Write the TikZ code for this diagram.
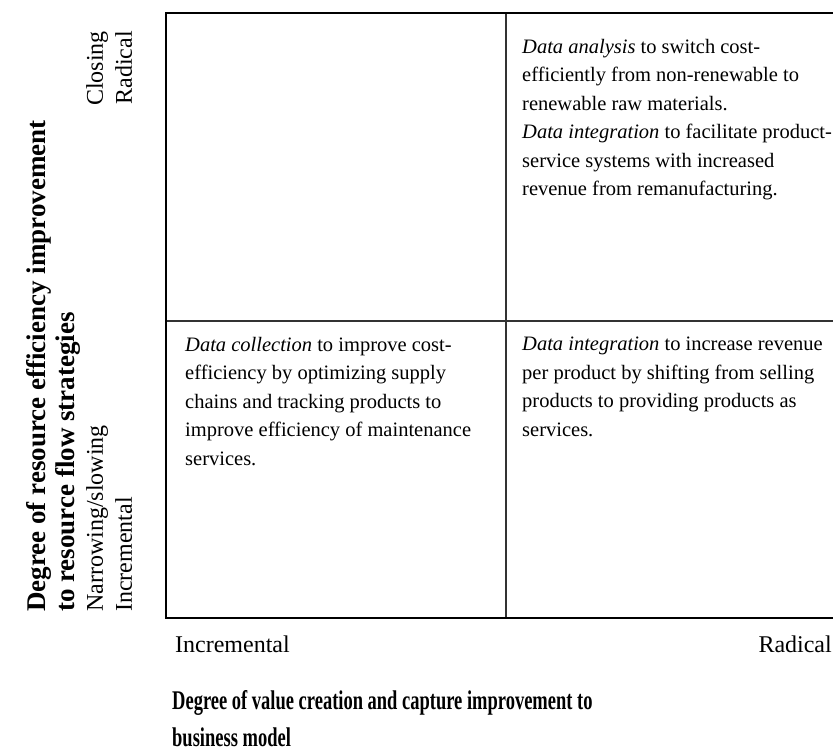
\documentclass[tikz,border=0pt]{standalone}
\usepackage{fontspec}
\setmainfont{Liberation Serif}
\newfontfamily\condfont[FakeStretch=0.685]{Liberation Serif}
\tikzset{
  frame/.style={line width=2.2pt, line cap=rect},
  divider/.style={line width=1.1pt, draw=black!80},
  quad/.style={inner sep=0pt, anchor=north west, align=left, font=\fontsize{20.5}{28.5}\selectfont},
  axislab/.style={inner sep=0pt, font=\fontsize{24}{28}\selectfont},
  vlab/.style={inner sep=0pt, rotate=90, font=\fontsize{24}{29}\selectfont},
  vtitle/.style={inner sep=0pt, rotate=90, anchor=north west, align=left, font=\fontsize{27}{29}\selectfont\bfseries},
  htitle/.style={inner sep=0pt, anchor=north west, align=left, font=\condfont\fontsize{27}{37}\selectfont\bfseries},
}
\begin{document}
\begin{tikzpicture}[x=1pt,y=-1pt]
\useasboundingbox (0,0) rectangle (833,752);
% grid corners
\coordinate (TL) at (166,13);
\coordinate (TR) at (833,13);
\coordinate (BL) at (166,618);
\coordinate (BR) at (833,618);
\coordinate (MT) at (506,13);
\coordinate (MB) at (506,618);
\coordinate (ML) at (166,321);
\coordinate (MR) at (833,321);
\draw[divider] (MT) -- (MB);
\draw[divider] (ML) -- (MR);
\draw[frame] (TR) -- (TL) -- (BL) -- (BR);

% quadrant texts
\node[quad] (q1) at (522,39) {\textit{Data analysis} to switch cost-\\efficiently\ from non-renewable to\\renewable raw materials.\\\textit{Data integration} to facilitate product-\\service systems with increased\\revenue from remanufacturing.};
\node[quad] (q3) at (185,337) {\textit{Data collection}\ to improve cost-\\efficiency by optimizing supply\\chains and tracking products to\\improve efficiency of maintenance\\services.};
\node[quad] (q4) at (522,337) {\textit{Data integration} to increase revenue\\per product by shifting from selling\\products to providing products as\\services.};

% axis labels
\node[axislab, anchor=base west] (xinc) at (175,652) {Incremental};
\node[axislab, anchor=base east] (xrad) at (832,652) {Radical};
\node[htitle] (xtitle) at (172,690) {Degree of value creation and capture improvement to\\business model};

\node[vlab, anchor=north east, align=right] (yrad) at (86,31) {Closing\\Radical};
\node[vlab, anchor=north west, align=left] (yinc) at (86,612) {Narrowing/slowing\\Incremental};
\node[vtitle] (ytitle) at (26,612) {Degree of resource efficiency improvement\\to resource flow strategies};
\end{tikzpicture}
\end{document}
